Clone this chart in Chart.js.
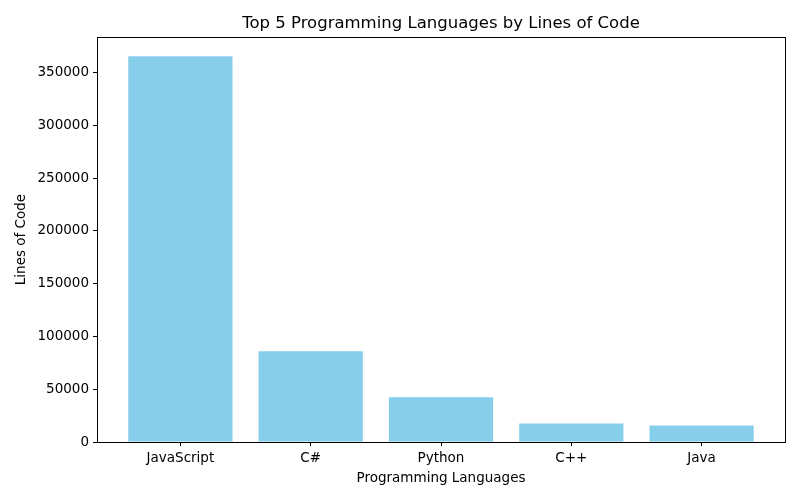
<!DOCTYPE html>
<html>
<head>
<meta charset="utf-8">
<script src="https://cdn.jsdelivr.net/npm/chart.js@4/dist/chart.umd.min.js"></script>
<style>
  body { margin: 0; background: #fff; }
  #wrap { width: 800px; height: 500px; }
</style>
</head>
<body>
<div id="wrap"><canvas id="chart" width="800" height="500"></canvas></div>
<script>
// data
const languages = ['JavaScript', 'C#', 'Python', 'C++', 'Java'];
const linesOfCode = [365500, 86000, 42300, 17600, 15700];
const yTicks = [0, 50000, 100000, 150000, 200000, 250000, 300000, 350000];

const FONT = '"DejaVu Sans", sans-serif';

// matplotlib-like limits: bars span i-0.4..i+0.4, 5% margins
const xMin = -0.4 - 0.05 * (languages.length - 0.2);
const xMax = languages.length - 0.6 + 0.05 * (languages.length - 0.2);
const yMax = Math.max(...linesOfCode) * 1.05;

// frame around the plot + title centred over the axes
const framePlugin = {
    id: 'frame',
    afterDraw(chart) {
        const { ctx, chartArea: a } = chart;
        ctx.save();
        ctx.strokeStyle = '#000';
        ctx.lineWidth = 1;
        ctx.strokeRect(Math.round(a.left) + 0.5, Math.round(a.top) + 0.5,
            Math.round(a.right - a.left), Math.round(a.bottom - a.top));
        ctx.fillStyle = '#000';
        ctx.font = '16.5px ' + FONT;
        ctx.textAlign = 'center';
        ctx.textBaseline = 'middle';
        ctx.fillText('Top 5 Programming Languages by Lines of Code', (a.left + a.right) / 2, 24);
        ctx.restore();
    }
};

new Chart(document.getElementById('chart'), {
    type: 'bar',
    data: {
        datasets: [{
            data: linesOfCode.map((v, i) => ({ x: i, y: v })),
            backgroundColor: '#87CEEB',
            borderWidth: 0,
            barPercentage: 0.8,
            categoryPercentage: 1.0
        }]
    },
    options: {
        responsive: false,
        animation: false,
        layout: { padding: { top: 37, right: 15, left: 0, bottom: 0 } },
        plugins: {
            legend: { display: false },
            title: { display: false },
            tooltip: { enabled: false }
        },
        scales: {
            x: {
                type: 'linear',
                offset: false,
                min: xMin,
                max: xMax,
                afterBuildTicks: s => { s.ticks = languages.map((_, i) => ({ value: i })); },
                afterFit: s => { s.height = 58; },
                ticks: {
                    callback: v => languages[v],
                    color: '#000',
                    font: { family: FONT, size: 13.5 },
                    padding: 4,
                    maxRotation: 0,
                    autoSkip: false
                },
                grid: { offset: false, drawOnChartArea: false, tickLength: 4, color: '#000' },
                border: { color: '#000' },
                title: {
                    display: true,
                    text: 'Programming Languages',
                    color: '#000',
                    font: { family: FONT, size: 13.5 },
                    padding: { top: 0, bottom: 13 }
                }
            },
            y: {
                min: 0,
                max: yMax,
                afterBuildTicks: s => { s.ticks = yTicks.map(v => ({ value: v })); },
                afterFit: s => { s.width = 97; },
                ticks: {
                    callback: v => String(v),
                    color: '#000',
                    font: { family: FONT, size: 13.5 },
                    padding: 4,
                    autoSkip: false
                },
                grid: { drawOnChartArea: false, tickLength: 4, color: '#000' },
                border: { color: '#000' },
                title: {
                    display: true,
                    text: 'Lines of Code',
                    color: '#000',
                    font: { family: FONT, size: 13.5 },
                    padding: { top: 13, bottom: 0 }
                }
            }
        }
    },
    plugins: [framePlugin]
});
</script>
</body>
</html>
